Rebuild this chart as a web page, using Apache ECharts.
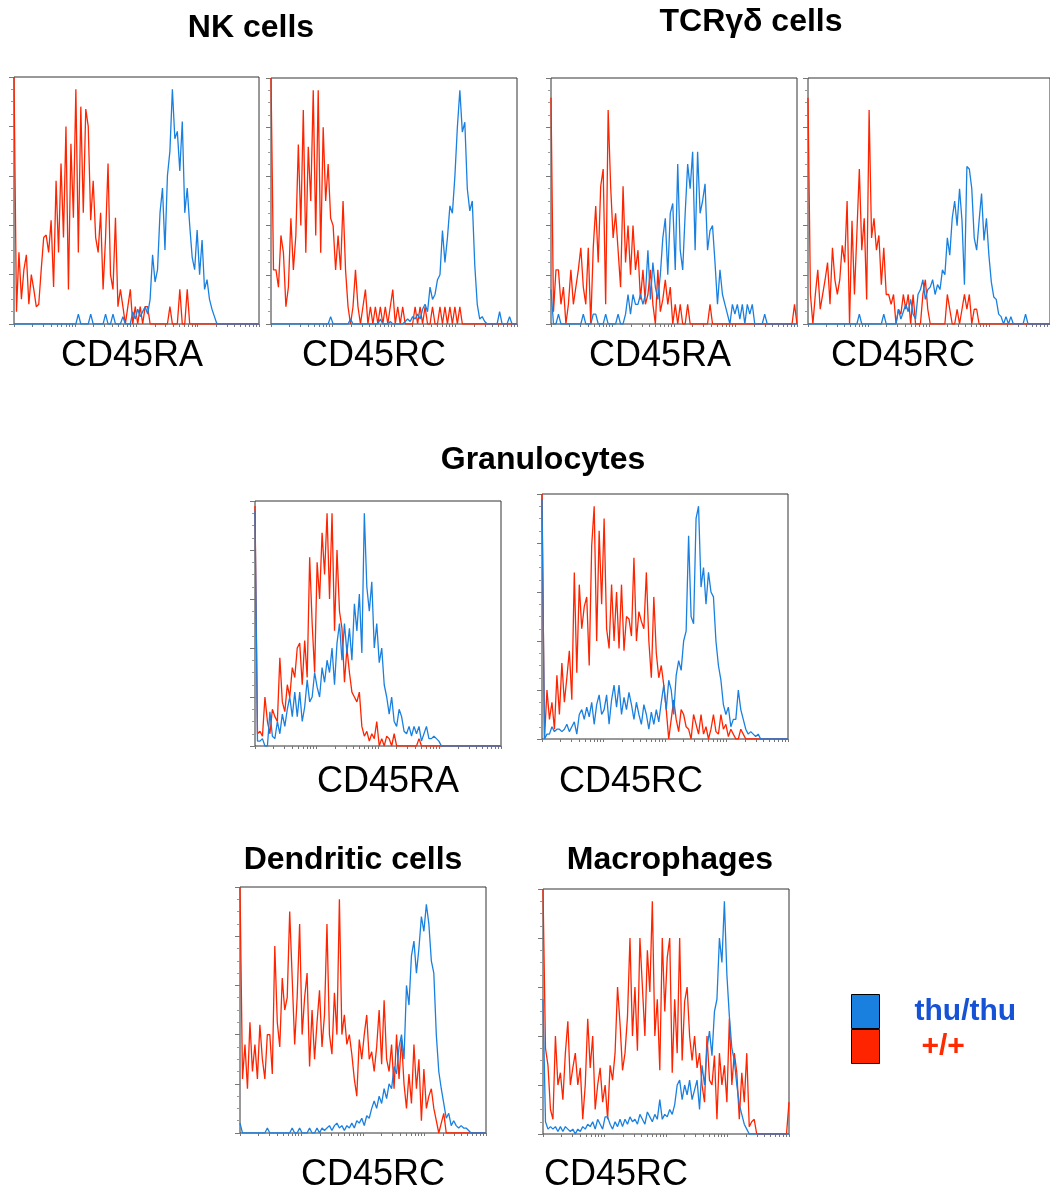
<!DOCTYPE html>
<html>
<head>
<meta charset="utf-8">
<script src="https://cdn.jsdelivr.net/npm/echarts@6/dist/echarts.min.js"></script>
<style>
  html, body { margin: 0; padding: 0; background: #fff; }
  #chart { width: 1050px; height: 1191px; }
</style>
</head>
<body>
<div id="chart"></div>
<script>
// histogram bins (display channels) and log-decade tick values of the x axis
const bins = Array.from({ length: 100 }, (_, i) => i);
const logTicks = [1, 2, 3, 4, 5, 6, 7, 8, 9, 10, 20, 30, 40, 50, 60, 70, 80, 90,
  100, 200, 300, 400, 500, 600, 700, 800, 900, 1000, 2000, 3000, 4000, 5000, 6000, 7000, 8000, 9000, 10000];

// NK cells, CD45RA
const nkRaWt = [100,5,29,10,22,28,8,20,14,7, 8,22,35,36,29,42,15,58,29,65, 35,80,14,73,43,95,29,88,45,87,
  80,42,58,35,29,45,14,35,65,20, 14,43,7,14,7,0,7,14,0,7, 0,7,0,7,7,0,0,0,0,0, 0,0,0,7,0,0,0,14,0,0,
  14,0,0,0,0,0,0,0,0,0, 0,0,0,0,0,0,0,0,0,0, 0,0,0,0,0,0,0,0,0,0];
const nkRaThu = [0,0,0,0,0,0,0,0,0,0, 0,0,0,0,0,0,0,0,0,0, 0,0,0,0,0,0,4,0,0,0, 0,4,0,0,0,0,0,4,0,0,
  4,0,0,0,3,0,0,0,5,2, 6,3,5,7,4,10,28,17,22,45, 55,30,60,70,95,75,78,62,82,45, 55,40,27,22,38,20,34,14,18,10,
  6,3,0,0,0,0,0,0,0,0, 0,0,0,0,0,0,0,0,0,0];
// NK cells, CD45RC
const nkRcWt = [100,22,22,15,36,29,7,15,43,22, 36,73,40,87,29,72,50,95,36,95, 29,80,50,65,43,40,22,36,22,50,
  22,7,0,7,22,7,0,7,14,0, 7,0,7,0,7,0,7,0,7,14, 0,7,0,7,0,0,0,0,7,0, 7,0,7,0,0,7,0,0,7,0,
  7,0,7,0,7,0,7,0,0,0, 0,0,0,0,0,0,0,0,0,0, 0,0,0,0,0,0,0,0,0,0];
const nkRcThu = [0,0,0,0,0,0,0,0,0,0, 0,0,0,0,0,0,0,0,0,0, 0,0,0,0,3,0,0,0,0,0, 0,0,2,0,0,0,0,0,0,0,
  0,0,0,0,2,0,0,0,1,0, 0,0,0,0,1,2,1,3,2,4, 2,6,8,5,15,10,12,18,20,38, 25,35,48,45,60,80,95,78,82,55,
  46,50,24,8,2,3,1,0,0,0, 0,0,5,0,0,0,3,0,0,0];
// TCRgd cells, CD45RA
const tcRaWt = [92,5,22,22,8,15,0,8,22,8, 15,22,31,15,8,31,0,31,48,25, 56,63,8,87,56,35,45,30,15,56,
  25,40,20,40,22,30,10,22,8,12, 22,8,0,22,5,10,18,8,15,0, 8,0,8,0,0,8,0,0,0,0, 0,0,0,0,8,0,0,0,0,0,
  0,0,0,0,0,0,0,0,0,0, 0,0,0,0,0,0,0,0,0,0, 0,0,0,0,0,0,0,0,8,0];
const tcRaThu = [14,0,0,4,0,0,0,0,0,0, 0,0,0,4,0,0,0,4,4,0, 0,0,4,0,0,0,0,4,0,0, 4,12,4,12,8,8,12,8,12,30,
  10,25,15,10,20,35,43,20,45,49, 22,65,30,22,45,65,55,70,30,70, 45,50,57,30,38,40,25,8,22,12, 8,4,0,8,4,8,2,8,0,8,
  4,8,0,0,0,0,4,0,0,0, 0,0,0,0,0,0,0,0,0,0];
// TCRgd cells, CD45RC
const tcRcWt = [92,12,0,12,22,6,12,18,25,8, 31,18,12,18,32,25,50,0,42,12, 37,63,30,43,10,87,35,43,30,36,
  16,31,12,12,8,12,0,6,4,12, 6,12,0,12,0,0,0,12,18,6, 0,0,0,0,0,0,0,12,6,0, 0,6,0,6,12,6,12,0,6,6,
  0,0,0,0,0,0,0,0,0,0, 0,0,0,0,0,0,0,0,0,0, 0,0,0,0,0,0,0,0,0,0];
const tcRcThu = [0,0,0,0,0,0,0,0,0,0, 0,0,0,0,0,0,0,0,0,0, 0,4,0,0,0,0,0,0,0,0, 0,4,0,0,0,0,0,6,2,5,
  8,5,10,4,2,12,14,18,10,14, 15,18,12,16,14,22,20,35,28,43, 50,40,55,42,16,64,63,55,35,30, 42,53,34,43,28,17,11,10,4,3,
  0,3,0,3,0,0,0,0,0,4, 0,0,0,0,0,0,0,0,0,0];
// Granulocytes, CD45RA
const grRaWt = [98,5,6,4,20,10,5,15,12,10, 36,18,14,25,20,32,28,40,42,25, 43,28,77,50,30,75,60,87,70,95,
  60,95,47,80,55,48,26,40,30,22, 20,18,22,8,4,6,2,5,3,10, 0,3,0,4,3,0,5,0,0,0, 0,0,0,0,0,0,3,0,0,0,
  0,0,0,0,0,0,0,0,0,0, 0,0,0,0,0,0,0,0,0,0, 0,0,0,0,0,0,0,0,0,0];
const grRaThu = [96,2,2,3,0,0,14,4,3,10, 5,13,8,15,20,12,22,12,22,10, 16,27,18,20,30,24,20,32,26,35,
  30,40,25,42,50,35,50,38,48,35, 58,47,62,38,95,65,55,67,40,50, 34,40,25,20,13,20,10,8,15,12, 6,5,8,4,8,5,8,2,5,8,
  3,3,4,3,2,0,0,0,0,0, 0,0,0,0,0,0,0,0,0,0, 0,0,0,0,0,0,0,0,0,0];
// Granulocytes, CD45RC
const grRcWt = [100,0,20,8,15,4,26,10,31,15, 25,36,16,68,27,63,45,54,58,30, 79,95,40,85,55,90,45,37,63,40,
  60,37,63,36,50,49,42,74,40,52, 48,45,68,40,25,58,35,25,30,22, 12,0,8,16,8,3,12,10,5,4, 0,10,6,2,10,2,5,0,4,10,
  3,2,10,4,6,1,4,2,0,0, 4,2,0,0,0,0,0,0,0,0, 0,0,0,0,0,0,0,0,0,0];
const grRcThu = [98,0,2,2,5,3,4,4,3,4, 6,3,5,7,2,10,12,8,13,9, 15,6,14,18,10,12,18,6,16,22,
  13,22,10,17,12,19,14,8,15,10, 6,14,10,4,11,6,12,7,15,22, 12,24,20,10,26,32,28,40,44,83, 50,47,90,95,62,70,55,68,60,58,
  40,30,24,14,10,13,5,8,8,20, 12,8,4,2,3,2,1,2,0,0, 0,0,0,0,0,0,0,0,0,0];
// Dendritic cells, CD45RC
const dcRcWt = [100,22,36,18,45,25,36,22,44,30, 22,40,40,24,76,45,35,63,50,55, 90,63,36,55,85,40,55,65,27,50,
  30,45,58,35,48,85,40,32,57,40, 95,40,48,36,40,32,22,15,38,30, 40,48,30,33,25,35,50,28,54,30, 25,36,18,40,22,38,20,10,24,12,
  36,18,30,5,26,10,15,18,10,5, 0,4,8,0,0,0,0,0,0,0, 0,0,0,0,0,0,0,0,0,0];
const dcRcThu = [4,0,0,0,0,0,0,0,0,0, 0,2,0,0,0,0,0,0,0,0, 0,2,0,0,2,0,0,0,2,0, 0,2,0,2,1,2,3,1,3,4,
  2,3,1,3,2,4,2,5,4,6, 3,7,6,10,13,10,15,12,18,14, 20,18,27,24,35,40,30,60,52,72, 78,65,75,88,82,93,85,70,65,40,
  25,18,12,6,8,3,5,3,2,3, 2,2,1,0,0,0,0,0,0,0];
// Macrophages, CD45RC
const maRcWt = [100,35,28,10,6,40,20,25,14,33, 46,20,27,33,20,27,6,20,47,27, 40,10,20,27,13,20,6,28,22,33,
  60,45,26,33,48,80,40,60,34,80, 60,40,75,58,95,40,55,26,80,50, 72,80,25,55,33,80,30,54,60,40, 30,40,27,33,20,13,40,22,20,32,
  6,33,20,28,13,47,20,33,25,6, 25,13,33,3,5,6,0,0,0,0, 0,0,0,0,0,0,0,0,0,13];
const maRcThu = [55,5,2,3,2,3,1,3,1,3, 2,1,2,0,2,1,3,2,4,3, 5,2,6,4,2,7,7,4,2,5, 3,6,3,6,4,7,5,6,4,8,
  6,4,9,7,5,8,6,14,6,8, 7,10,8,12,20,22,14,20,16,22, 14,18,22,10,28,20,35,42,32,50, 55,80,70,95,65,48,35,30,20,12,
  8,4,2,0,0,0,0,0,0,0, 0,0,0,0,0,0,0,0,0,0];

const RED = '#ff2400';
const BLUE = '#1a80e0';
const FONT = '"Liberation Sans", Arial, Helvetica, sans-serif';

const panels = [
  { wt: nkRaWt, thu: nkRaThu, left: 14, top: 77, width: 245, height: 247 },
  { wt: nkRcWt, thu: nkRcThu, left: 271, top: 78, width: 246, height: 246 },
  { wt: tcRaWt, thu: tcRaThu, left: 551, top: 78, width: 246, height: 246 },
  { wt: tcRcWt, thu: tcRcThu, left: 808, top: 78, width: 246, height: 246 },
  { wt: grRaWt, thu: grRaThu, left: 255, top: 501, width: 246, height: 245 },
  { wt: grRcWt, thu: grRcThu, left: 542, top: 494, width: 246, height: 245 },
  { wt: dcRcWt, thu: dcRcThu, left: 240, top: 887, width: 246, height: 246 },
  { wt: maRcWt, thu: maRcThu, left: 543, top: 889, width: 246, height: 245 }
];

const titles = [
  { text: 'NK cells', x: 251, y: 28 },
  { text: 'TCRγδ cells', x: 751, y: 22 },
  { text: 'Granulocytes', x: 543, y: 460 },
  { text: 'Dendritic cells', x: 353, y: 860 },
  { text: 'Macrophages', x: 670, y: 860 }
];
const markerLabels = [
  { text: 'CD45RA', x: 132, y: 356 },
  { text: 'CD45RC', x: 374, y: 356 },
  { text: 'CD45RA', x: 660, y: 356 },
  { text: 'CD45RC', x: 903, y: 356 },
  { text: 'CD45RA', x: 388, y: 782 },
  { text: 'CD45RC', x: 631, y: 782 },
  { text: 'CD45RC', x: 373, y: 1175 },
  { text: 'CD45RC', x: 616, y: 1175 }
];

const chart = echarts.init(document.getElementById('chart'));

const grid = [], xAxis = [], yAxis = [], series = [];
panels.forEach((p, i) => {
  grid.push({
    left: p.left, top: p.top, width: p.width, height: p.height,
    show: true, borderColor: '#333', borderWidth: 1, backgroundColor: 'transparent'
  });
  xAxis.push({
    type: 'category', gridIndex: i, data: bins, boundaryGap: false, position: 'bottom',
    axisLine: { show: false }, axisTick: { show: false }, axisLabel: { show: false }
  });
  xAxis.push({
    type: 'log', gridIndex: i, min: 1, max: 10000, position: 'bottom',
    axisLine: { show: false }, axisLabel: { show: false }, splitLine: { show: false },
    axisTick: { show: true, length: 3, customValues: logTicks, lineStyle: { color: '#777' } }
  });
  yAxis.push({
    type: 'value', gridIndex: i, min: 0, max: 100, interval: 20,
    axisLine: { show: false }, axisLabel: { show: false }, splitLine: { show: false },
    axisTick: { show: true, length: 5, lineStyle: { color: '#777' } },
    minorTick: { show: true, splitNumber: 4, length: 3, lineStyle: { color: '#999' } }
  });
  series.push({
    type: 'line', name: '+/+', xAxisIndex: 2 * i, yAxisIndex: i, data: p.wt,
    symbol: 'none', color: RED, lineStyle: { color: RED, width: 1.3 }
  });
  series.push({
    type: 'line', name: 'thu/thu', xAxisIndex: 2 * i, yAxisIndex: i, data: p.thu,
    symbol: 'none', color: BLUE, lineStyle: { color: BLUE, width: 1.3 }
  });
});

const textEl = (t, font) => ({
  type: 'text', x: t.x, y: t.y,
  style: {
    text: t.text, font: font, fill: '#000',
    align: 'center', verticalAlign: 'middle',
    textAlign: 'center', textVerticalAlign: 'middle'
  }
});

chart.setOption({
  animation: false,
  backgroundColor: '#fff',
  grid, xAxis, yAxis, series,
  legend: {
    orient: 'vertical', left: 851, top: 994, padding: 0,
    itemWidth: 28, itemHeight: 34, itemGap: 0, icon: 'rect', selectedMode: false,
    itemStyle: { borderColor: '#000', borderWidth: 1 },
    textStyle: { fontSize: 30, fontWeight: 'bold', fontFamily: FONT },
    data: [
      { name: 'thu/thu', textStyle: { color: '#1552d6', padding: [0, 0, 6, 30] } },
      { name: '+/+', textStyle: { color: '#ff2a00', padding: [18, 0, 0, 37] } }
    ]
  },
  graphic: [
    ...titles.map(t => textEl(t, 'bold 32px ' + FONT)),
    ...markerLabels.map(t => textEl(t, '36px ' + FONT))
  ]
});

window.addEventListener('resize', chart.resize);
</script>
</body>
</html>
